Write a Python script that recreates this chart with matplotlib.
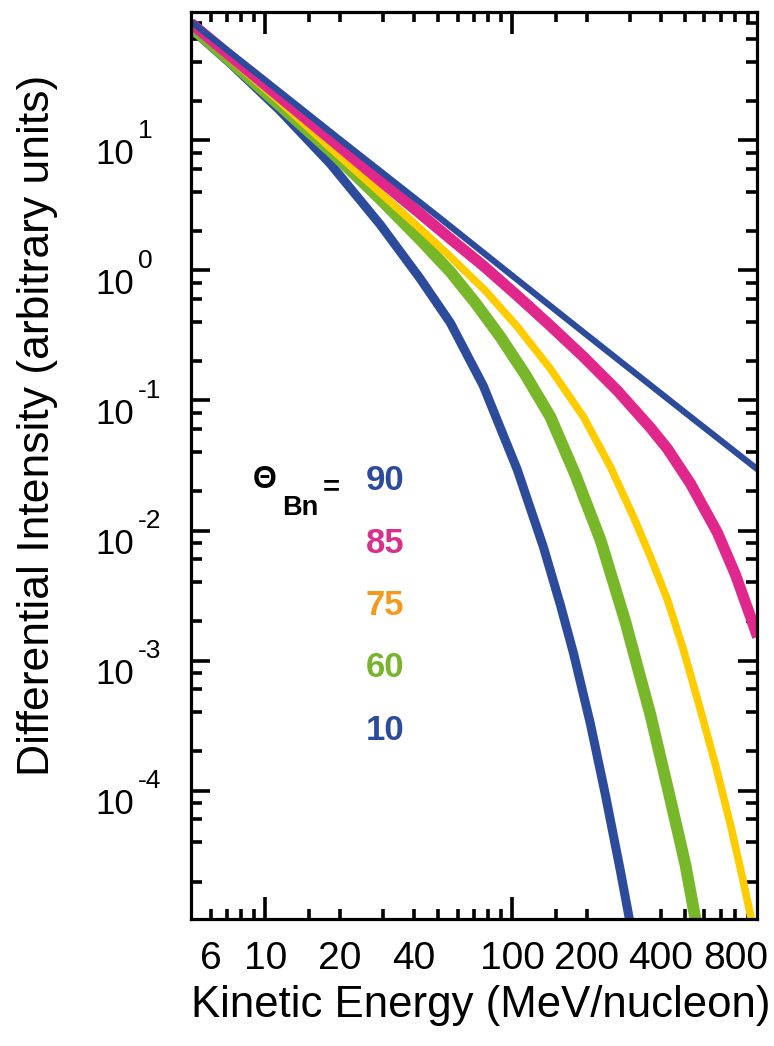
import matplotlib
matplotlib.use("Agg")
import matplotlib.pyplot as plt
from matplotlib.ticker import FixedLocator, NullFormatter, FuncFormatter

plt.rcParams['font.family'] = ['Liberation Sans', 'DejaVu Sans']
NARROW = ['Liberation Sans Narrow', 'Liberation Sans']

# theta_Bn = 90 (pure power law)
energy_90 = [5, 10, 20, 50, 100, 200, 500, 985]
flux_90 = [82, 29, 10.2, 2.6, 0.91, 0.32, 0.081, 0.0295]

# theta_Bn = 85
energy_85 = [5, 7.19, 11.47, 18.3, 29.2, 42.4, 56.1, 76.3, 104.8, 142.6, 194.1,
             266.6, 362.7, 425.1, 527.1, 677.9, 801.9, 922.4, 985]
flux_85 = [79.7, 44.8, 21.5, 10.3, 4.90, 2.73, 1.753, 1.087, 0.639, 0.3755,
           0.2169, 0.1188, 0.0617, 0.0425, 0.0229, 9.6e-3, 4.56e-3, 2.17e-3, 1.52e-3]

# theta_Bn = 75
energy_75 = [5, 7.19, 11.47, 18.3, 29.2, 42.4, 56.1, 77.8, 104.8, 142.6, 194.1,
             249.6, 309.5, 362.7, 425.1, 493.5, 578.3, 665.2, 765.1, 855.8, 939.7]
flux_75 = [77.6, 42.9, 19.85, 8.79, 3.96, 2.093, 1.275, 0.698, 0.369, 0.1753,
           0.0749, 0.0309, 0.01275, 6.28e-3, 2.93e-3, 1.209e-3, 4.17e-4, 1.576e-4,
           5.45e-5, 2.13e-5, 9.3e-6]

# theta_Bn = 60
energy_60 = [5, 7.19, 11.47, 18.3, 29.2, 42.4, 56.1, 70.8, 89.4, 113.0, 142.6,
             180.1, 227.5, 287.2, 362.7, 437.2, 502.8, 557.2]
flux_60 = [74.9, 41.0, 18.49, 8.33, 3.53, 1.722, 0.977, 0.5645, 0.309, 0.1576,
           0.0749, 0.02682, 8.48e-3, 1.984e-3, 3.82e-4, 8.48e-5, 2.68e-5, 9.3e-6]

# theta_Bn = 10
energy_10 = [5, 7.19, 11.47, 18.3, 29.2, 42.4, 56.1, 76.3, 104.8, 133.6, 156.6,
             176.8, 207.2, 238.3, 274.1, 301]
flux_10 = [72.3, 39.3, 16.92, 6.62, 2.247, 0.863, 0.396, 0.1297, 0.0293, 7.49e-3,
           2.68e-3, 1.146e-3, 3.26e-4, 9.27e-5, 2.41e-5, 9.3e-6]

angle_labels = ['90', '85', '75', '60', '10']
label_colors = ['#2d4b9b', '#d9308c', '#f39a1e', '#78b52c', '#2d4b9b']

x_label_ticks = [6, 10, 20, 40, 100, 200, 400, 800]
x_minor_ticks = [7, 8, 9, 15, 30, 50, 60, 70, 80, 90, 150, 300, 500, 600, 700, 900]
y_major_exp = [-4, -3, -2, -1, 0, 1]
y_minor_ticks = [m * 10.0 ** e for e in range(-5, 2) for m in (2, 4, 6, 8)]

fig = plt.figure(figsize=(7.74, 10.46), dpi=100)
ax = fig.add_axes([0.2468, 0.1214, 0.7313, 0.8671])

ax.plot(energy_10, flux_10, color='#2d4b9b', lw=6.5, solid_capstyle='butt')
ax.plot(energy_60, flux_60, color='#78b72a', lw=8.5, solid_capstyle='butt')
ax.plot(energy_75, flux_75, color='#ffcc00', lw=5.5, solid_capstyle='butt')
ax.plot(energy_85, flux_85, color='#e0288c', lw=8, solid_capstyle='butt')
ax.plot(energy_90, flux_90, color='#2d4b9b', lw=4.5, solid_capstyle='butt')

ax.set_xscale('log')
ax.set_yscale('log')
ax.set_xlim(5, 980)
ax.set_ylim(1.03e-5, 97)

ax.xaxis.set_major_locator(FixedLocator(x_label_ticks))
ax.xaxis.set_minor_locator(FixedLocator(x_minor_ticks))
ax.xaxis.set_major_formatter(FuncFormatter(lambda v, p: '%g' % v))
ax.xaxis.set_minor_formatter(NullFormatter())
ax.yaxis.set_major_locator(FixedLocator([10.0 ** e for e in y_major_exp]))
ax.yaxis.set_minor_locator(FixedLocator(y_minor_ticks))
ax.yaxis.set_major_formatter(NullFormatter())
ax.yaxis.set_minor_formatter(NullFormatter())

for s in ax.spines.values():
    s.set_linewidth(2.3)

ax.tick_params(which='both', direction='in', top=True, right=True, width=2.6)
ax.tick_params(axis='x', which='major', length=16, labelsize=28, pad=16)
ax.tick_params(axis='x', which='minor', length=7)
ax.tick_params(axis='y', which='major', length=14)
ax.tick_params(axis='y', which='minor', length=8)
for lab in ax.get_xticklabels():
    lab.set_family(NARROW)

# only decades get long ticks on the x axis
for tick, val in zip(ax.xaxis.get_major_ticks(), x_label_ticks):
    if val not in (10, 100):
        tick.tick1line.set_markersize(7)
        tick.tick2line.set_markersize(7)

# y tick labels drawn as "10" plus a raised exponent
for e in y_major_exp:
    ax.annotate('10', xy=(0, 10.0 ** e), xycoords=('axes fraction', 'data'),
                xytext=(-41, -17), textcoords='offset points',
                ha='right', va='baseline', fontsize=25)
    ax.annotate('%d' % e, xy=(0, 10.0 ** e), xycoords=('axes fraction', 'data'),
                xytext=(-38.5, 2), textcoords='offset points',
                ha='left', va='baseline', fontsize=19)

fig.text(481 / 774, 0.039, 'Kinetic Energy (MeV/nucleon)',
         ha='center', va='center', fontsize=31.5)
fig.text(0.049, 1 - 425 / 1046, 'Differential Intensity (arbitrary units)',
         rotation=90, ha='center', va='center', fontsize=32, family=NARROW)

# Theta_Bn legend
fig.text(265 / 774, 1 - 480 / 1046, '\u0398', fontsize=22, fontweight='bold',
         ha='center', va='center')
fig.text(300 / 774, 1 - 508 / 1046, 'Bn', fontsize=19.5, fontweight='bold',
         ha='center', va='center')
fig.text(331 / 774, 1 - 487 / 1046, '=', fontsize=21, fontweight='bold',
         ha='center', va='center')
for i, (lab, col) in enumerate(zip(angle_labels, label_colors)):
    fig.text(385 / 774, 1 - (481 + 62.3 * i) / 1046, lab, color=col,
             fontsize=25, fontweight='bold', ha='center', va='center')

fig.savefig('out.png', dpi=100)
